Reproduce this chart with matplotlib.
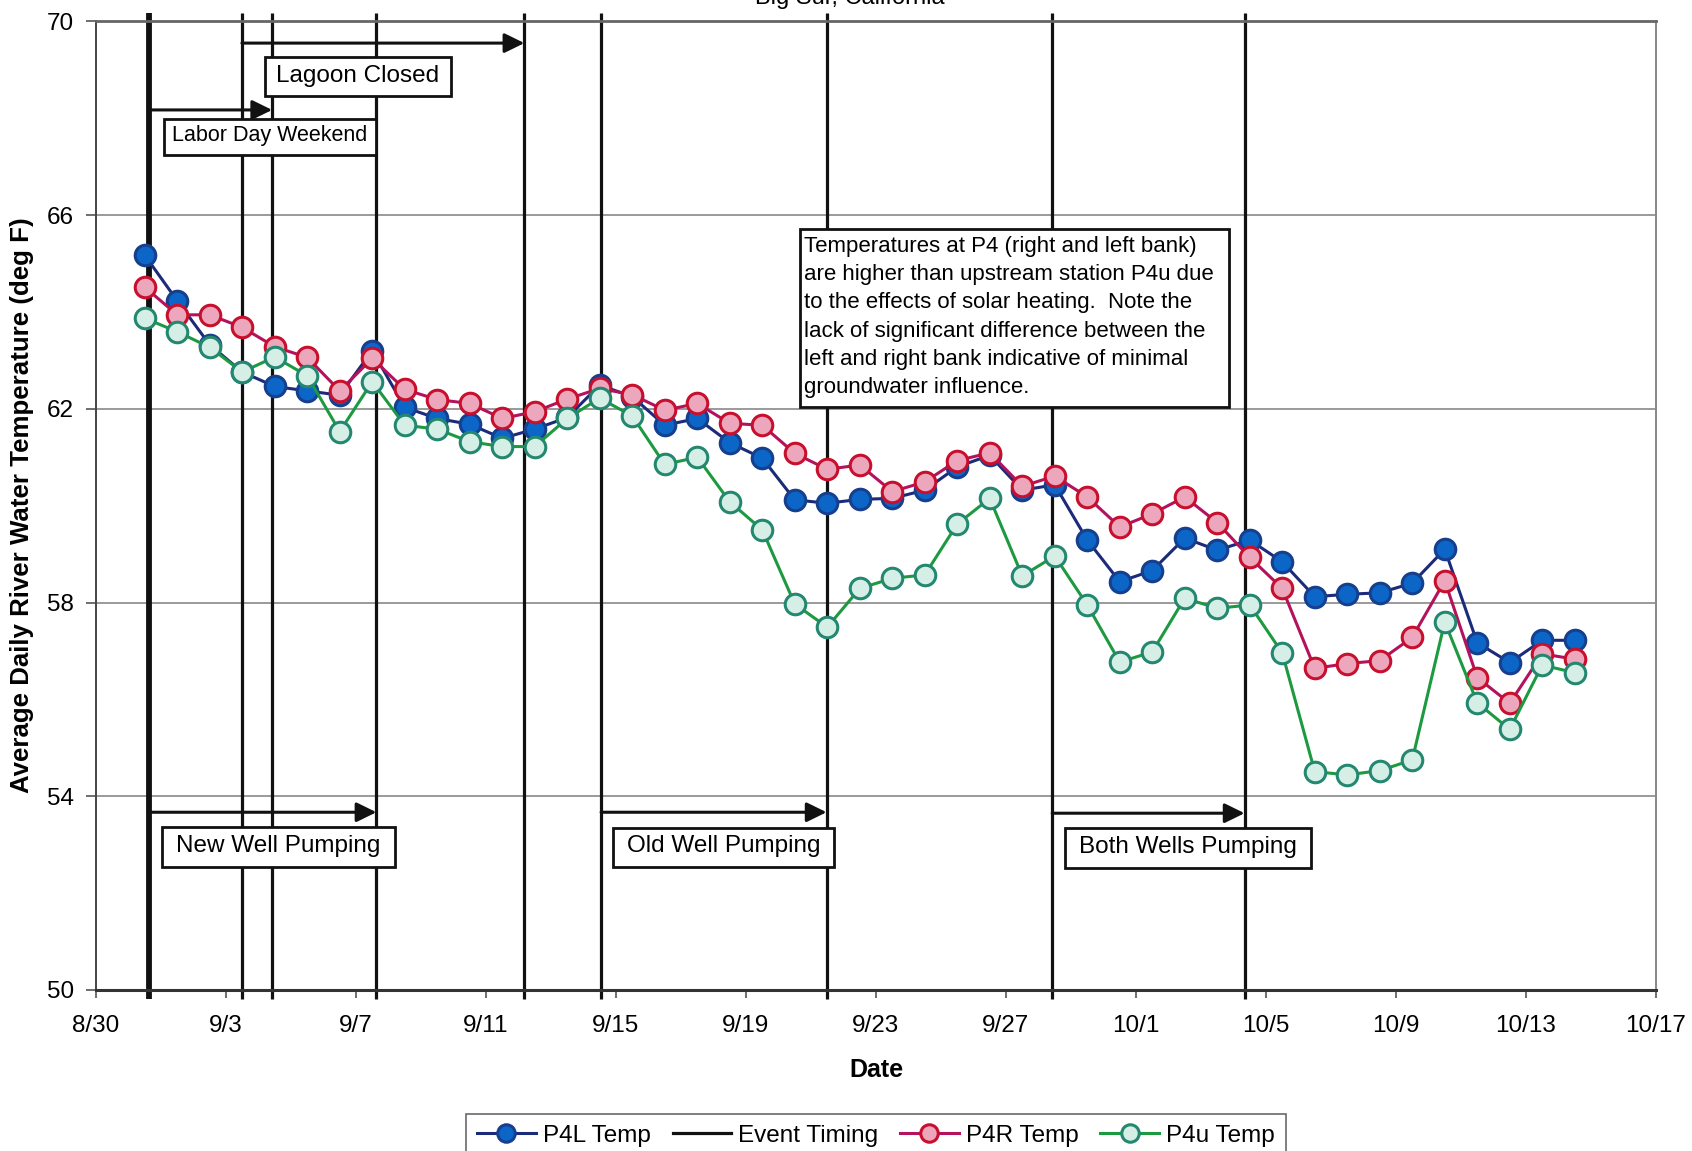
import matplotlib
matplotlib.use('Agg')
import matplotlib.pyplot as plt
from matplotlib.lines import Line2D
from matplotlib.patches import Rectangle
import pandas as pd

plt.rcParams['font.family'] = ['Liberation Sans', 'DejaVu Sans']

# ---------------- data ----------------
dates = pd.date_range('2001-08-31 12:00', periods=45, freq='D')

p4l_temp = [65.17, 64.23, 63.32, 62.76, 62.46, 62.37, 62.28, 63.20, 62.03, 61.80,
            61.68, 61.39, 61.58, 61.82, 62.49, 62.25, 61.66, 61.80, 61.30, 60.98,
            60.12, 60.05, 60.13, 60.15, 60.32, 60.80, 61.04, 60.32, 60.43, 59.29,
            58.43, 58.66, 59.33, 59.08, 59.29, 58.84, 58.12, 58.17, 58.20, 58.40,
            59.10, 57.17, 56.76, 57.22, 57.22]
p4r_temp = [64.51, 63.94, 63.94, 63.68, 63.28, 63.06, 62.37, 63.04, 62.40, 62.19,
            62.11, 61.80, 61.94, 62.20, 62.42, 62.29, 61.97, 62.11, 61.70, 61.66,
            61.08, 60.75, 60.84, 60.29, 60.49, 60.93, 61.09, 60.40, 60.61, 60.18,
            59.56, 59.83, 60.18, 59.65, 58.93, 58.29, 56.64, 56.74, 56.80, 57.28,
            58.45, 56.45, 55.92, 56.94, 56.83]
p4u_temp = [63.87, 63.59, 63.27, 62.76, 63.07, 62.68, 61.53, 62.56, 61.66, 61.58,
            61.32, 61.22, 61.22, 61.80, 62.22, 61.85, 60.85, 61.00, 60.08, 59.50,
            57.97, 57.49, 58.29, 58.50, 58.57, 59.62, 60.15, 58.55, 58.96, 57.95,
            56.77, 56.98, 58.09, 57.88, 57.95, 56.96, 54.51, 54.44, 54.53, 54.75,
            57.60, 55.93, 55.38, 56.71, 56.55]

event_times = pd.to_datetime(['2001-08-31 15:20', '2001-09-03 11:45', '2001-09-04 10:05',
                              '2001-09-07 15:05', '2001-09-12 04:20', '2001-09-14 13:00',
                              '2001-09-21 11:30', '2001-09-28 10:05', '2001-10-04 08:10'])

# periods shown with arrows: (start event index, end event index, label)
periods = [(0, 2, 'Labor Day Weekend'), (1, 4, 'Lagoon Closed'),
           (0, 3, 'New Well Pumping'), (5, 6, 'Old Well Pumping'),
           (7, 8, 'Both Wells Pumping')]
period_levels = [68.17, 69.55, 53.67, 53.67, 53.65]

xtick_dates = pd.date_range('2001-08-30', '2001-10-17', freq='4D')
xtick_labels = [f"{d.month}/{d.day}" for d in xtick_dates]
yticks = [50, 54, 58, 62, 66, 70]

note_lines = ["Temperatures at P4 (right and left bank)",
              "are higher than upstream station P4u due",
              "to the effects of solar heating.  Note the",
              "lack of significant difference between the",
              "left and right bank indicative of minimal",
              "groundwater influence."]

# ---------------- figure ----------------
W, H = 1692, 1151
fig = plt.figure(figsize=(W / 100, H / 100), dpi=100)
fig.patch.set_facecolor('white')
ax = fig.add_axes([96 / W, 1 - 990 / H, (1656 - 96) / W, (990 - 21.3) / H])


def fx(px):
    return px / W


def fy(py):
    return 1 - py / H


# event lines
for i, t in enumerate(event_times):
    ax.plot([t, t], [49.81, 70.18], color='#111111', lw=4.2 if i == 0 else 2.3,
            clip_on=False, zorder=2, solid_capstyle='butt')

ms, mew, lw = 14.8, 2.2, 2.2
l1, = ax.plot(dates, p4l_temp, color='#1c2a7a', lw=lw, marker='o', ms=ms,
              mfc='#0b66c8', mec='#163f8e', mew=mew, zorder=4, label='P4L Temp')
l3, = ax.plot(dates, p4r_temp, color='#b3125c', lw=lw, marker='o', ms=ms,
              mfc='#eca7bd', mec='#c8102e', mew=mew, zorder=5, label='P4R Temp')
l4, = ax.plot(dates, p4u_temp, color='#1d9a40', lw=lw, marker='o', ms=ms,
              mfc='#d6efe6', mec='#23886f', mew=mew, zorder=6, label='P4u Temp')
l2 = Line2D([], [], color='#111111', lw=2.3, label='Event Timing')

# arrows
for (s, e, _), yv in zip(periods, period_levels):
    ax.annotate('', xy=(event_times[e], yv), xytext=(event_times[s], yv),
                arrowprops=dict(arrowstyle='-|>,head_length=0.55,head_width=0.27',
                                color='#111111', lw=2.2, shrinkA=0, shrinkB=0,
                                mutation_scale=22), zorder=3, annotation_clip=False)

# axes styling
ax.set_xlim(pd.Timestamp('2001-08-30'), pd.Timestamp('2001-10-17'))
ax.set_ylim(50, 70)
ax.set_xticks(xtick_dates)
ax.set_xticklabels(xtick_labels)
ax.set_yticks(yticks)
ax.set_yticklabels([str(v) for v in yticks])
ax.tick_params(axis='x', direction='out', length=6, width=1.2, pad=12, labelsize=17.5,
               color='#555555')
ax.tick_params(axis='y', direction='out', length=7, width=1.2, pad=9, labelsize=17.5,
               color='#555555')
for v in [54, 58, 62, 66]:
    ax.axhline(v, color='#9a9a9a', lw=1.4, zorder=1)
ax.spines['left'].set_color('#444444')
ax.spines['left'].set_linewidth(1.4)
ax.spines['bottom'].set_color('#333333')
ax.spines['bottom'].set_linewidth(2.2)
ax.spines['top'].set_color('#666666')
ax.spines['top'].set_linewidth(2.0)
ax.spines['right'].set_color('#888888')
ax.spines['right'].set_linewidth(1.4)

# labels and title
fig.text(fx(22), fy(505), 'Average Daily River Water Temperature (deg F)', rotation=90,
         ha='center', va='center', fontsize=18.6, fontweight='bold')
fig.text(fx(876), fy(1070), 'Date', ha='center', va='center', fontsize=18,
         fontweight='bold')
fig.text(fx(850), fy(4), 'Big Sur, California', ha='center', va='baseline', fontsize=17)


def box(x0, y0, x1, y1, lw=2.0):
    fig.patches.append(Rectangle((fx(x0), fy(y1)), fx(x1) - fx(x0), fy(y0) - fy(y1),
                                 transform=fig.transFigure, facecolor='white',
                                 edgecolor='#111111', lw=lw, zorder=10))


# period label boxes (pixel layout)
label_boxes = {'Labor Day Weekend': (164, 119, 376, 155, 141.5, 15.5),
               'Lagoon Closed': (265, 57, 451, 96, 82, 17.5),
               'New Well Pumping': (162, 827, 395, 867, 852, 17.5),
               'Old Well Pumping': (613, 828, 834, 867, 852, 17.5),
               'Both Wells Pumping': (1065, 828, 1311, 868, 853, 17.5)}
for _, _, lab in periods:
    x0, y0, x1, y1, base, fs = label_boxes[lab]
    box(x0, y0, x1, y1)
    fig.text(fx((x0 + x1) / 2), fy(base), lab, ha='center', va='baseline',
             fontsize=fs, zorder=11)

# note box
box(800, 229, 1229, 407)
for i, line in enumerate(note_lines):
    fig.text(fx(804), fy(251.7 + 28.3 * i), line, ha='left', va='baseline',
             fontsize=16, zorder=11)

# legend
leg = fig.legend(handles=[l1, l2, l3, l4], loc='upper center',
                 bbox_to_anchor=(fx(876), fy(1114)), ncol=4, frameon=True,
                 fontsize=17.5, handlelength=2.4, handletextpad=0.3, columnspacing=0.9,
                 borderpad=0.45, borderaxespad=0.0, fancybox=False, markerscale=0.85)
leg.get_frame().set_edgecolor('#444444')
leg.get_frame().set_linewidth(1.2)

fig.savefig('out.png', dpi=100, facecolor='white')
